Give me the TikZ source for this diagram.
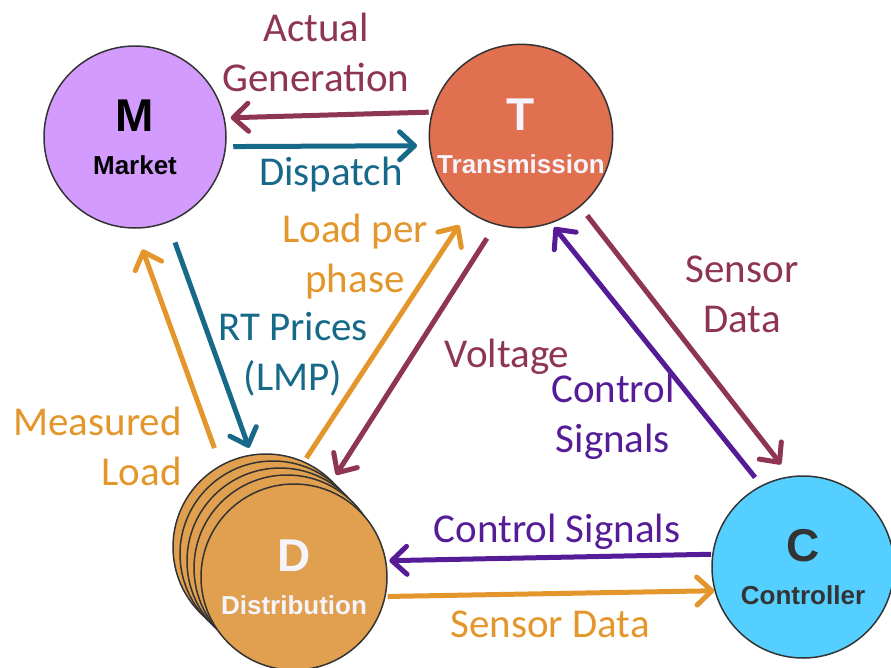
\documentclass[tikz,border=0pt]{standalone}
\usepackage{fontspec}
\setmainfont{Carlito}
\newfontfamily\agentfont{Liberation Sans}
\usetikzlibrary{arrows.meta}

\definecolor{mktfill}{HTML}{D49BFF}
\definecolor{trnfill}{HTML}{E07050}
\definecolor{ctlfill}{HTML}{55CFFF}
\definecolor{dstfill}{HTML}{E0A050}
\definecolor{genred}{HTML}{8E3553}
\definecolor{priceblue}{HTML}{17698A}
\definecolor{loadorange}{HTML}{E3962B}
\definecolor{ctrlpurple}{HTML}{561C98}
\definecolor{paletext}{HTML}{F4F4FA}

\begin{document}
\begin{tikzpicture}[x=1pt,y=-1pt,
  agent/.style={circle, draw=black!80, line width=1.5pt, minimum size=182pt,
    inner sep=0pt, align=center,
    font=\agentfont\bfseries\fontsize{26}{43}\selectfont},
  flow/.style={line width=5pt, -{Straight Barb[length=15pt,width=28pt,round]}},
  lbl/.style={font=\fontsize{41}{50}\selectfont, align=center, inner sep=0pt}]
\useasboundingbox (0,0) rectangle (891,667);
\clip (0,0) rectangle (891,667);

% the four agents
\node[agent, fill=mktfill] (M) at (135,137) {{\fontsize{46}{46}\selectfont M}\\Market};
\node[agent, fill=trnfill, text=paletext] (T) at (521,136) {{\fontsize{46}{46}\selectfont T}\\Transmission};
\node[agent, fill=ctlfill, text=black!80] (C) at (803,567) {{\fontsize{46}{46}\selectfont C}\\Controller};
% stacked distribution feeders
\node[agent, fill=dstfill, minimum size=186pt] (d4) at (266,547) {};
\node[agent, fill=dstfill, minimum size=186pt] (d3) at (273,554) {};
\node[agent, fill=dstfill, minimum size=186pt] (d2) at (280,561) {};
\node[agent, fill=dstfill, minimum size=186pt] (d1) at (287,568) {};
\node[agent, fill=dstfill, minimum size=186pt, text=paletext] (D) at (294,577) {{\fontsize{46}{46}\selectfont D}\\Distribution};

% market <-> transmission
\draw[flow, genred, shorten <=3pt, shorten >=6pt] (T.165) -- (M.12);
\draw[flow, priceblue, shorten <=7pt, shorten >=12pt] (M.-6) -- (T.186);
\node[lbl, genred, anchor=base] (actgen) at (316,91) {Actual\\Generation};
\node[lbl, priceblue, anchor=base] (dispatch) at (331,185) {Dispatch};

% market <-> distribution
\draw[flow, priceblue, shorten <=21pt, shorten >=7pt] (M.-69) -- (d4.99);
\draw[flow, loadorange, shorten <=18pt, shorten >=22pt] (d4.119) -- (M.-90);
\node[lbl, priceblue, anchor=base] (rtprice) at (293,390) {RT Prices\\(LMP)};
\node[lbl, loadorange, anchor=base east, align=right] (measload) at (182,485) {Measured\\Load};

% transmission <-> distribution
\draw[flow, loadorange, shorten <=4pt, shorten >=16pt] (d4.66) -- (T.-125);
\draw[flow, genred, shorten <=16pt, shorten >=7pt] (T.-106) -- (d4.45);
\node[lbl, loadorange, anchor=base] (phaseload) at (355,292) {Load per\\phase};
\node[lbl, genred, anchor=base] (voltage) at (507,367) {Voltage};

% transmission <-> controller
\draw[flow, genred, shorten <=11pt, shorten >=15pt] (T.-50) -- (C.98);
\draw[flow, ctrlpurple, shorten <=10pt, shorten >=5pt] (C.117) -- (T.-71);
\node[lbl, genred, anchor=base] (tsensor) at (742,332) {Sensor\\Data};
\node[lbl, ctrlpurple, anchor=base] (tcontrol) at (613,452) {Control\\Signals};

% controller <-> distribution
\draw[flow, ctrlpurple, shorten <=1pt, shorten >=3pt] (C.172) -- (D.10);
\draw[flow, loadorange, shorten <=2pt] (D.-12) -- (C.195);
\node[lbl, ctrlpurple, anchor=base] (dcontrol) at (557,542) {Control Signals};
\node[lbl, loadorange, anchor=base] (dsensor) at (550,637) {Sensor Data};
\end{tikzpicture}
\end{document}
